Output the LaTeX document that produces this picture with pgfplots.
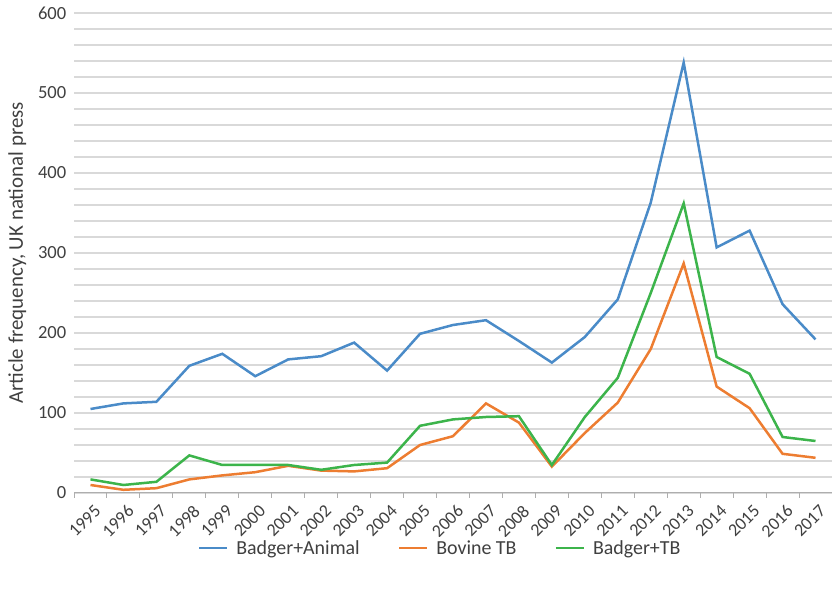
\documentclass[border=0pt]{standalone}
\usepackage{fontspec}
\setmainfont{Carlito}
\usepackage{pgfplots}
\pgfplotsset{compat=1.18}

\definecolor{cBlue}{HTML}{4A8BC8}
\definecolor{cOrange}{HTML}{ED7D31}
\definecolor{cGreen}{HTML}{3CB44B}
\definecolor{cGrid}{HTML}{D9D9D9}
\definecolor{cText}{HTML}{404040}

% years 1995..2017 plotted at 0..22
\pgfplotstableread{
x  animal  bovine  badgertb
0  105   10   17
1  112    4   10
2  114    6   14
3  159   17   47
4  174   22   35
5  146   26   35
6  167   34   35
7  171   28   29
8  188   27   35
9  153   31   38
10 199   60   84
11 210   71   92
12 216  112   95
13 190   88   96
14 163   33   35
15 195   75   95
16 242  113  144
17 363  180  250
18 538  287  362
19 307  133  170
20 328  106  149
21 236   49   70
22 192   44   65
}\datatable

\begin{document}
\begin{tikzpicture}
\path[use as bounding box] (0,0) rectangle (832bp,590bp);
\begin{axis}[
  at={(74bp,97bp)}, anchor=south west,
  scale only axis,
  width=758bp, height=480bp,
  xmin=-0.5, xmax=22.5,
  ymin=0, ymax=600,
  axis x line*=bottom,
  axis y line*=left,
  y axis line style={draw=none},
  clip=false,
  xtick={0,...,22},
  xticklabels={1995,1996,1997,1998,1999,2000,2001,2002,2003,2004,2005,2006,2007,2008,2009,2010,2011,2012,2013,2014,2015,2016,2017},
  minor xtick={-0.5,0.5,...,22.5},
  major x tick style={draw=none},
  minor x tick style={draw=cGrid!80!black, line width=1bp},
  minor tick length=5bp,
  tick align=outside,
  x axis line style={draw=cGrid!80!black, line width=1bp},
  % xshift before rotate: shift in the page frame
  xticklabel style={xshift=3bp, rotate=45, anchor=north east, inner sep=1bp,
    font=\fontsize{18}{20}\selectfont, text=cText},
  xticklabel shift=5bp,
  ytick={0,100,...,600},
  minor ytick={20,40,...,580},
  ymajorgrids, yminorgrids,
  major grid style={cGrid, line width=1.2bp},
  minor grid style={cGrid, line width=1.2bp},
  major y tick style={draw=none},
  minor y tick style={draw=none},
  yticklabel style={font=\fontsize{18.6}{20}\selectfont, text=cText},
  /pgf/number format/assume math mode=true,
  ylabel={Article frequency, UK national press},
  ylabel style={yshift=5bp, font=\fontsize{21}{24}\selectfont, text=cText},
  legend columns=3,
  legend style={at={(0.483,-0.115)}, anchor=center, draw=none,
    font=\fontsize{20}{22}\selectfont, text=cText,
    /tikz/every odd column/.append style={column sep=6bp},
    /tikz/every even column/.append style={column sep=36bp}},
  legend image code/.code={\draw[#1, line width=2.5bp] (0cm,0cm) -- (28bp,0cm);},
]
\addplot[cBlue, line width=2.5bp] table[x=x, y=animal] {\datatable};
\addlegendentry{Badger+Animal}
\addplot[cOrange, line width=2.5bp] table[x=x, y=bovine] {\datatable};
\addlegendentry{Bovine TB}
\addplot[cGreen, line width=2.5bp] table[x=x, y=badgertb] {\datatable};
\addlegendentry{Badger+TB}
\end{axis}
\end{tikzpicture}
\end{document}
